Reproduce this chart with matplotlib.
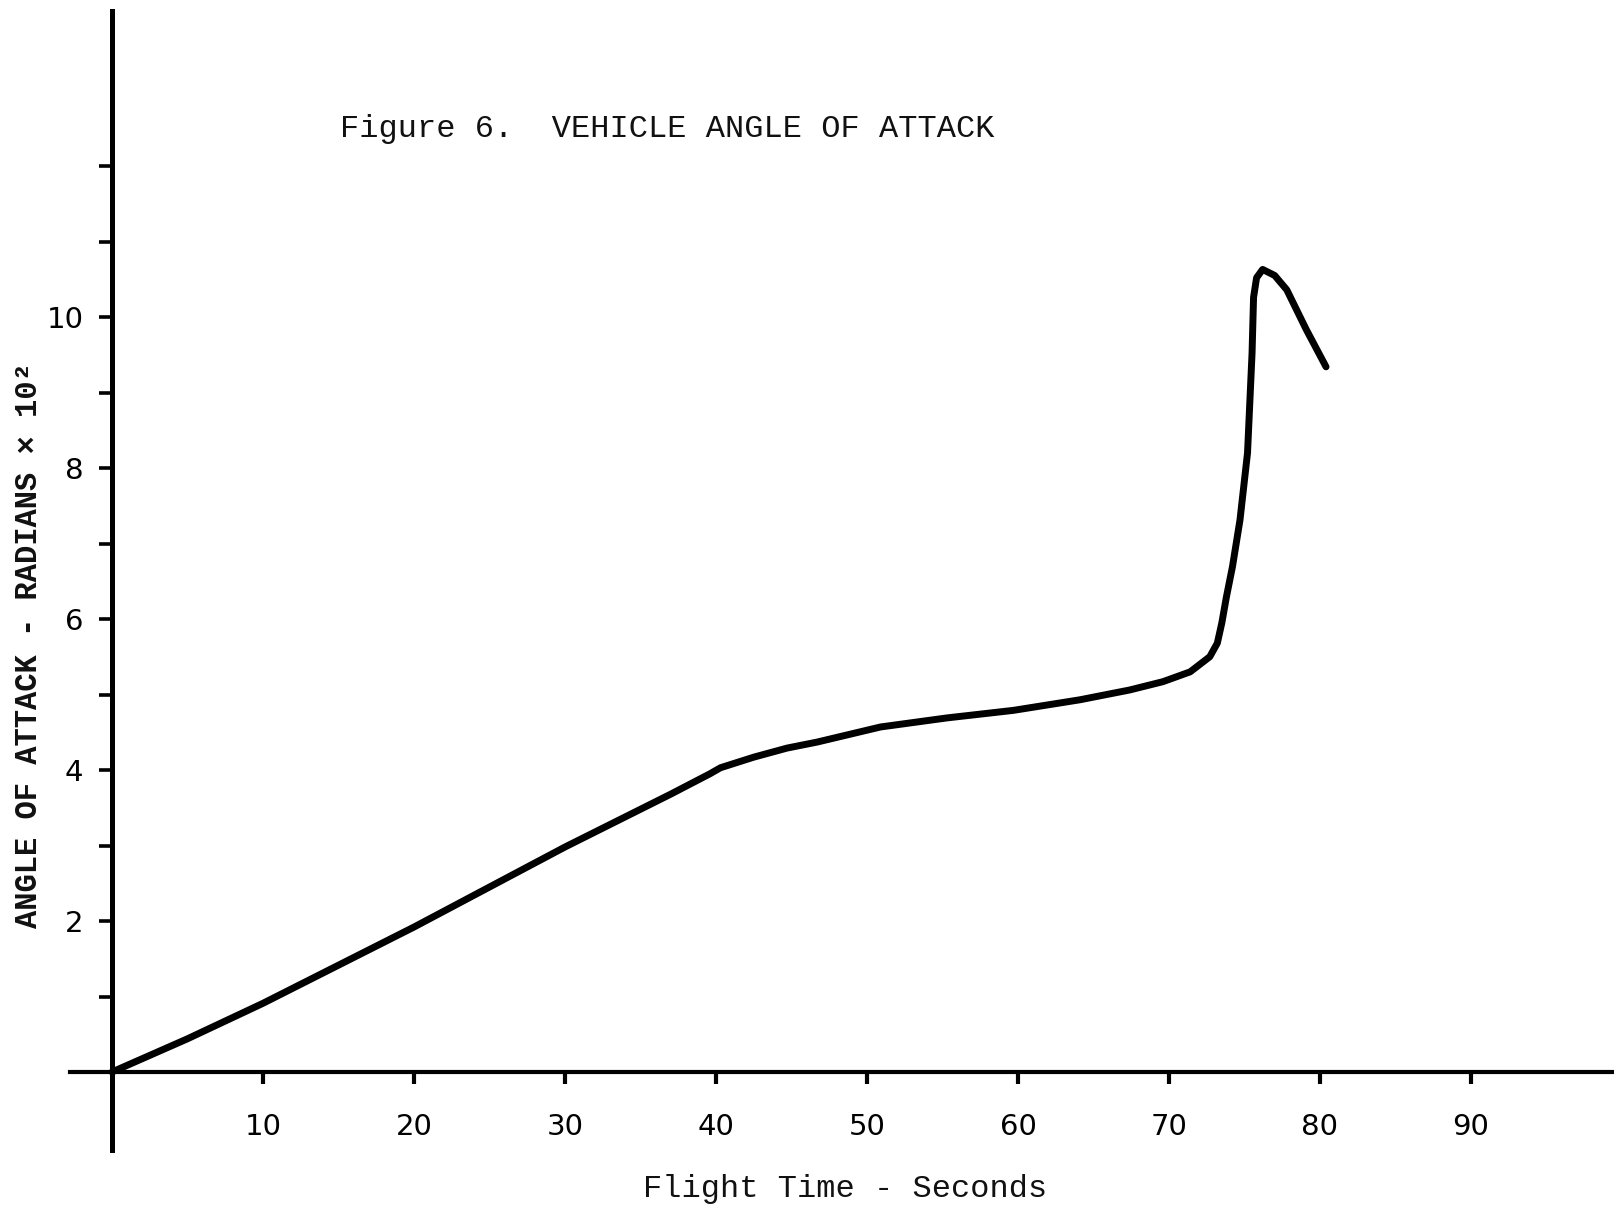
import matplotlib
matplotlib.use("Agg")
import matplotlib.pyplot as plt

# ---- data ----
time_s = [0, 5, 10, 20, 30, 33.6, 37.0, 39.6, 40.3, 42.5, 44.7, 46.7, 50.9,
          55.3, 59.7, 64.1, 67.4, 69.6, 71.4, 72.7, 73.2, 73.5, 73.8, 74.2,
          74.7, 75.2, 75.5, 75.6, 75.8, 76.2, 77.0, 77.8, 79.1, 80.4]
angle = [0, 0.44, 0.91, 1.92, 2.98, 3.34, 3.68, 3.95, 4.03, 4.17, 4.29, 4.37,
         4.57, 4.69, 4.79, 4.93, 5.06, 5.17, 5.30, 5.50, 5.68, 5.95, 6.29,
         6.69, 7.31, 8.20, 9.52, 10.26, 10.52, 10.63, 10.55, 10.36, 9.83, 9.34]

x_ticks = [10, 20, 30, 40, 50, 60, 70, 80, 90]
x_tick_labels = ["10", "20", "30", "40", "50", "60", "70", "80", "90"]
y_major = [2, 4, 6, 8, 10]
y_major_labels = ["2", "4", "6", "8", "10"]
y_minor = [1, 3, 5, 7, 9, 11, 12]

title = "Figure 6.  VEHICLE ANGLE OF ATTACK"
xlabel = "Flight Time - Seconds"
ylabel = "ANGLE OF ATTACK - RADIANS \u00d7 10\u00b2"

# ---- figure ----
W, H = 1614, 1211
fig = plt.figure(figsize=(W / 100, H / 100), dpi=100)
fig.patch.set_facecolor("white")
ax = fig.add_axes([0, 0, 1, 1])
ax.set_facecolor("white")

x0_px, y0_px = 112, 1072        # pixel position of the origin
px_per_s, px_per_unit = 15.1, 75.5
ax.set_xlim(-x0_px / px_per_s, (W - x0_px) / px_per_s)
ax.set_ylim(-(H - y0_px) / px_per_unit, y0_px / px_per_unit)

ax.plot(time_s, angle, color="black", lw=5.0,
        solid_joinstyle="round", solid_capstyle="round", zorder=4)

for s in ["top", "right"]:
    ax.spines[s].set_visible(False)
ax.spines["left"].set_position(("data", 0))
ax.spines["bottom"].set_position(("data", 0))
ax.spines["left"].set_bounds(-1.03, 14.05)
ax.spines["bottom"].set_bounds(-2.8, 100)
ax.spines["left"].set_linewidth(3.6)
ax.spines["bottom"].set_linewidth(3.0)
ax.spines["left"].set_color("black")
ax.spines["bottom"].set_color("black")

ax.set_xticks(x_ticks, x_tick_labels)
ax.set_yticks(y_major, y_major_labels)
ax.set_yticks(y_minor, minor=True)
ax.tick_params(axis="x", direction="out", length=8.5, width=3, pad=21,
               labelsize=21, colors="black")
ax.tick_params(axis="y", which="both", direction="out", length=9.5, width=2.6,
               pad=11, labelsize=21, colors="black")
ax.tick_params(axis="x", which="minor", length=0)

mono = "Liberation Mono"
fig.text(340 / W, 1 - 129 / H, title, family=mono, fontsize=23,
         ha="left", va="center", color="#111111")
fig.text(845 / W, 1 - 1189 / H, xlabel, family=mono, fontsize=23,
         ha="center", va="center", color="#111111")
fig.text(29 / W, 1 - 645 / H, ylabel, family=mono, fontsize=22,
         ha="center", va="center", rotation=90, color="#111111",
         fontweight="bold")

fig.savefig("out.png", dpi=100, facecolor="white")
